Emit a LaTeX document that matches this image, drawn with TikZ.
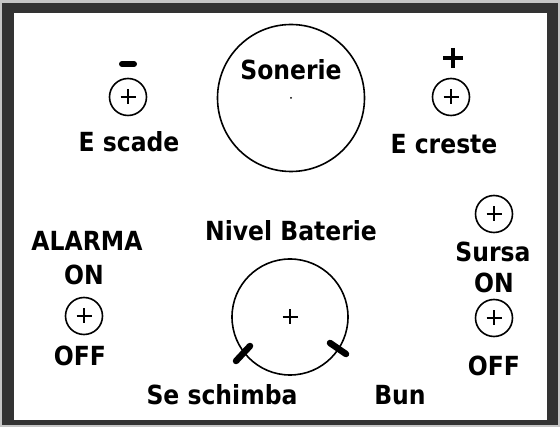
\documentclass[tikz,border=0pt]{standalone}
\usepackage{fontspec}
\setmainfont{DejaVu Sans}
\usetikzlibrary{calc}
\newcommand\talltext[1]{\scalebox{1}[1.12]{#1}}
\begin{document}
\begin{tikzpicture}[x=1pt,y=-1pt,
  lbl/.style={font=\fontsize{23.5}{28}\selectfont\bfseries, inner sep=0pt, anchor=center},
  knob/.style={circle, draw, line width=1.6pt, minimum size=37pt, inner sep=0pt},
  tick/.style={line width=6.5pt, line cap=round},
  pl/.style={line width=1.4pt}]
\useasboundingbox (0,0) rectangle (560,427);
\fill[gray!45] (0,0) rectangle (560,427);
\fill[black!80] (2,3) rectangle (558,425);
\fill[white] (14,13) rectangle (547,420);
% Sonerie
\node[circle, draw, line width=1.6pt, minimum size=147pt, inner sep=0pt] (son) at (291,98) {};
\fill (son.center) circle (1);
\node[lbl] (sontxt) at (291,70) {\talltext{Sonerie}};
% E scade
\node[knob] (minusk) at (128,97) {};
\draw[pl] ($(minusk.center)+(-7.5,0)$) -- ($(minusk.center)+(7.5,0)$) ($(minusk.center)+(0,-7.5)$) -- ($(minusk.center)+(0,7.5)$);
\draw[line width=6pt, line cap=round] (122,64) -- (134,64);
\node[lbl] (scade) at (129,142) {\talltext{E scade}};
% E creste
\node[knob] (plusk) at (451,97) {};
\draw[pl] ($(plusk.center)+(-7.5,0)$) -- ($(plusk.center)+(7.5,0)$) ($(plusk.center)+(0,-7.5)$) -- ($(plusk.center)+(0,7.5)$);
\draw[line width=4pt] (443,58) -- (463,58) (453,48) -- (453,68);
\node[lbl] (creste) at (444,144) {\talltext{E creste}};
% Nivel Baterie
\node[lbl] (niv) at (291,231) {\talltext{Nivel Baterie}};
\node[circle, draw, line width=1.6pt, minimum size=116pt, inner sep=0pt] (bat) at (290,317) {};
\draw[pl] ($(bat.center)+(-7.5,0)$) -- ($(bat.center)+(7.5,0)$) ($(bat.center)+(0,-7.5)$) -- ($(bat.center)+(0,7.5)$);
\draw[tick] ($(bat.center)+(-54,44)$) -- ($(bat.center)+(-40,29)$);
\draw[tick] ($(bat.center)+(40,26)$) -- ($(bat.center)+(56,37)$);
\node[lbl] (sesch) at (222,395) {\talltext{Se schimba}};
\node[lbl] (bun) at (400,395) {\talltext{Bun}};
% Alarma
\node[lbl] (alarma) at (87,241) {\talltext{ALARMA}};
\node[lbl] (on1) at (84,275) {\talltext{ON}};
\node[knob] (alk) at (84,316) {};
\draw[pl] ($(alk.center)+(-7.5,0)$) -- ($(alk.center)+(7.5,0)$) ($(alk.center)+(0,-7.5)$) -- ($(alk.center)+(0,7.5)$);
\node[lbl] (off1) at (80,356) {\talltext{OFF}};
% Sursa
\node[knob] (s1) at (494,214) {};
\draw[pl] ($(s1.center)+(-7.5,0)$) -- ($(s1.center)+(7.5,0)$) ($(s1.center)+(0,-7.5)$) -- ($(s1.center)+(0,7.5)$);
\node[lbl] (sursa) at (493,252) {\talltext{Sursa}};
\node[lbl] (on2) at (494,283) {\talltext{ON}};
\node[knob] (s2) at (494,318) {};
\draw[pl] ($(s2.center)+(-7.5,0)$) -- ($(s2.center)+(7.5,0)$) ($(s2.center)+(0,-7.5)$) -- ($(s2.center)+(0,7.5)$);
\node[lbl] (off2) at (494,366) {\talltext{OFF}};
\end{tikzpicture}
\end{document}
